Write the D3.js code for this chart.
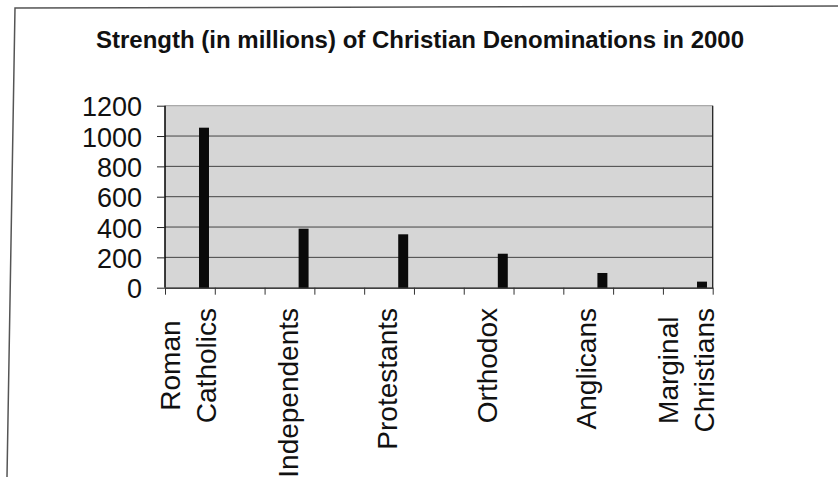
<!DOCTYPE html>
<html>
<head>
<meta charset="utf-8">
<script src="https://cdn.jsdelivr.net/npm/d3@7"></script>
<style>
  body { margin: 0; background: #fff; }
  text { font-family: "Liberation Sans", Arial, sans-serif; fill: #111; }
</style>
</head>
<body>
<div id="chart-area"></div>
<script>
// data
var categories = ["Roman Catholics", "Independents", "Protestants", "Orthodox", "Anglicans", "Marginal Christians"]
var labelLines = [["Roman", "Catholics"], ["Independents"], ["Protestants"], ["Orthodox"], ["Anglicans"], ["Marginal", "Christians"]]
var strength = [1055, 389, 352, 224, 97, 40]
var yTicks = [0, 200, 400, 600, 800, 1000, 1200]
var title = "Strength (in millions) of Christian Denominations in 2000"

var width = 838
var height = 477
var plot = {left: 165, right: 712.7, top: 105.7, bottom: 287.7}

var svg = d3.select("#chart-area")
    .append("svg")
    .attr("width", width)
    .attr("height", height)

// outer frame (the scan is slightly skewed)
svg.append("path")
    .attr("d", "M7,477 L15,8 L838,6")
    .attr("fill", "none")
    .attr("stroke", "#555")
    .attr("stroke-width", 1.5)

svg.append("text")
    .attr("x", 420)
    .attr("y", 48)
    .attr("text-anchor", "middle")
    .attr("font-size", "24px")
    .attr("font-weight", "bold")
    .text(title)

var y = d3.scaleLinear().domain([0, 1200]).range([plot.bottom, plot.top])
var x = d3.scaleBand().domain(categories).range([154.2, 751.8]).paddingInner(0.9).paddingOuter(0.45)
// tick marks on the category axis sit every half category
var slots = d3.scaleLinear().domain([0, 11]).range([plot.left, plot.right])

// plot area
svg.append("rect")
    .attr("x", plot.left)
    .attr("y", plot.top)
    .attr("width", plot.right - plot.left)
    .attr("height", plot.bottom - plot.top)
    .attr("fill", "#d6d6d6")

svg.append("g")
    .selectAll("line")
    .data(yTicks.filter(d => d > 0 && d < 1200))
    .enter()
    .append("line")
    .attr("x1", plot.left)
    .attr("x2", plot.right)
    .attr("y1", d => y(d))
    .attr("y2", d => y(d))
    .attr("stroke", "#444")
    .attr("stroke-width", 1)

svg.append("line")
    .attr("x1", plot.left).attr("x2", plot.right)
    .attr("y1", plot.top).attr("y2", plot.top)
    .attr("stroke", "#999")
svg.append("line")
    .attr("x1", plot.right).attr("x2", plot.right)
    .attr("y1", plot.top).attr("y2", plot.bottom)
    .attr("stroke", "#222").attr("stroke-width", 1.3)

// bars
svg.append("g")
    .selectAll("rect")
    .data(categories)
    .enter()
    .append("rect")
    .attr("x", d => x(d))
    .attr("y", (d, i) => y(strength[i]))
    .attr("width", x.bandwidth())
    .attr("height", (d, i) => plot.bottom - y(strength[i]))
    .attr("fill", "#0a0a0a")

// y axis
var leftAxis = d3.axisLeft(y).tickValues(yTicks).tickSize(8).tickPadding(15).tickFormat(d3.format("d"))
var gy = svg.append("g")
    .attr("transform", `translate(${plot.left}, 0)`)
    .call(leftAxis)
gy.select(".domain").attr("stroke", "#000").attr("stroke-width", 1.5).attr("d", `M0,${plot.top}V${plot.bottom}`)
gy.selectAll(".tick line").attr("stroke", "#222")
gy.selectAll(".tick text")
    .attr("font-size", "27px")
    .attr("font-family", "Liberation Sans, Arial, sans-serif")
    .attr("fill", "#111")
    .attr("dy", "0.38em")

// x axis
var bottomAxis = d3.axisBottom(slots).tickValues(d3.range(12)).tickSize(7).tickSizeOuter(0).tickFormat("")
var gx = svg.append("g")
    .attr("transform", `translate(0, ${plot.bottom})`)
    .call(bottomAxis)
gx.select(".domain").attr("stroke", "#000").attr("stroke-width", 1.2)
gx.selectAll(".tick line").attr("stroke", "#333")

// rotated category labels, block aligned to the top, lines centred
var lineGap = 36
svg.append("g")
    .selectAll("text")
    .data(categories)
    .enter()
    .append("text")
    .attr("font-size", "28px")
    .attr("transform", d => `translate(${x(d) + x.bandwidth() / 2 - 16}, 0) rotate(-90)`)
    .attr("text-anchor", "middle")
    .each(function (d, i) {
        var t = d3.select(this)
        var lines = labelLines[i]
        var spans = lines.map(l => t.append("tspan").text(l))
        var maxLen = d3.max(spans, s => s.node().getComputedTextLength())
        spans.forEach((s, k) => {
            s.attr("x", -(308 + maxLen / 2))
             .attr("y", (k - (lines.length - 1) / 2) * lineGap + 10)
        })
    })
</script>
</body>
</html>
